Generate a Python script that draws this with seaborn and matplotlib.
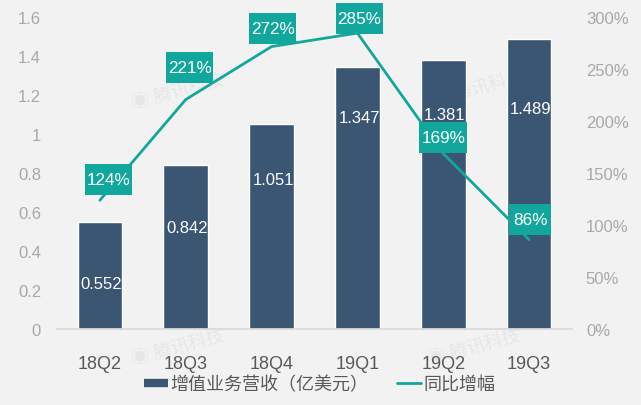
import matplotlib
matplotlib.use('Agg')
import matplotlib.pyplot as plt
import numpy as np
import pandas as pd
import seaborn as sns
from matplotlib.lines import Line2D
from matplotlib.patches import Rectangle
from matplotlib.ticker import FuncFormatter
from matplotlib.transforms import Affine2D

# Values
quarters = ['18Q2', '18Q3', '18Q4', '19Q1', '19Q2', '19Q3']
revenue = [0.552, 0.842, 1.051, 1.347, 1.381, 1.489]
growth = [124, 221, 272, 285, 169, 86]
left_ticks = [0, 0.2, 0.4, 0.6, 0.8, 1, 1.2, 1.4, 1.6]
left_labels = ['0', '0.2', '0.4', '0.6', '0.8', '1', '1.2', '1.4', '1.6']
right_ticks = [0, 50, 100, 150, 200, 250, 300]

BG = '#f2f2f2'
BAR = '#3b5672'
TEAL = '#12a79d'
GREY = '#a8a8a8'

sns.set_theme(style='white')
plt.rcParams['font.family'] = ['Liberation Sans', 'Noto Sans CJK SC', 'DejaVu Sans']

df = pd.DataFrame({'quarter': quarters, 'revenue': revenue, 'growth': growth})

fig = plt.figure(figsize=(6.41, 4.06), dpi=100, facecolor=BG)
ax = fig.add_axes([57 / 641, 1 - 330 / 406, 515 / 641, 311.5 / 406])
ax.patch.set_visible(False)

# Faint watermarks, behind the bars
for wx, wy in [(178, 93), (178, 349), (474, 349), (478, 90)]:
    fig.text(wx / 641, 1 - wy / 406, '◉ 腾讯科技', color='#000000', alpha=0.05, fontsize=13,
             rotation=15, ha='center', va='center', zorder=-1)

# Bars
sns.barplot(data=df, x='quarter', y='revenue', color=BAR, width=0.52, saturation=1, ax=ax)
ax.set_xlim(-0.5, 5.5)
ax.set_ylim(0, 1.6)
ax.set_xlabel('')
ax.set_ylabel('')
ax.set_yticks(left_ticks, left_labels)
ax.tick_params(axis='y', length=0, labelsize=12, labelcolor=GREY, pad=11.5)
ax.tick_params(axis='x', length=0, labelsize=13, labelcolor='#595959', pad=19)
sns.despine(ax=ax, left=True, top=True, right=True)
ax.spines['bottom'].set_color('#d9d9d9')

# Bar value labels sit at uneven heights in the original
bar_label_y = [0.235, 0.522, 0.767, 1.087, 1.104, 1.135]
for i, v in enumerate(revenue):
    ax.text(i + 0.02, bar_label_y[i], f'{v:.3f}', color='white', fontsize=12, ha='center', va='center')

# Growth line on the right axis
ax2 = ax.twinx()
ax2.patch.set_visible(False)
ax2.plot(np.arange(len(quarters)), growth, color=TEAL, linewidth=2.0)
sns.despine(ax=ax2, left=True, top=True, right=True, bottom=True)
ax2.set_xlim(-0.5, 5.5)
ax2.set_ylim(0, 300)
ax2.grid(False)
ax2.set_yticks(right_ticks)
ax2.yaxis.set_major_formatter(FuncFormatter(lambda v, _: f'{v:.0f}%'))
ax2.tick_params(axis='y', length=0, labelsize=12, labelcolor=GREY, pad=10)

# Teal label boxes, offset from each point in pixels
box_dx = [9, 4, 1, 2, 0, 1]
box_dy = [21, 32, 18, 15, 16, 20]
box_w = [47, 47, 47, 47, 48, 42]
box_h = 31
for i, g in enumerate(growth):
    px, py = ax2.transData.transform((i, g))
    px += box_dx[i]
    py += box_dy[i]
    ax2.add_patch(Rectangle((px - box_w[i] / 2, py - box_h / 2), box_w[i], box_h, fc=TEAL, ec='none',
                            transform=Affine2D(), zorder=4, clip_on=False))
    ax2.text(px, py, f'{g}%', color='white', fontsize=12.3, ha='center', va='center',
             transform=Affine2D(), zorder=5)

handles = [Line2D([0], [0], color=BAR, linewidth=6, solid_capstyle='butt'),
           Line2D([0], [0], color=TEAL, linewidth=2.0)]
fig.legend(handles, ['增值业务营收（亿美元）', '同比增幅'], loc='center', ncol=2,
           bbox_to_anchor=(320 / 641, 1 - 386 / 406), frameon=False, fontsize=13,
           labelcolor='#595959', handlelength=1.3, handletextpad=0.15, columnspacing=1.6)

fig.savefig('out.png', dpi=100, facecolor=BG)
